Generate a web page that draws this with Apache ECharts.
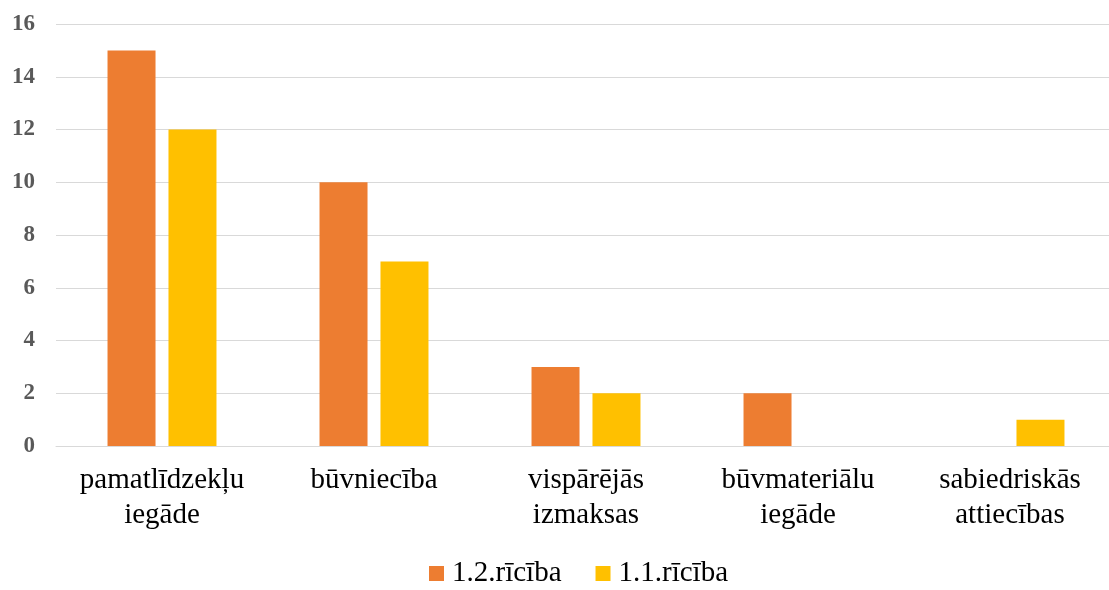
<!DOCTYPE html>
<html><head><meta charset="utf-8">
<script src="https://cdn.jsdelivr.net/npm/echarts@6/dist/echarts.min.js"></script>
<style>html,body{margin:0;padding:0;background:#fff;overflow:hidden;width:1109px;height:590px}#c{width:1124px;height:590px}</style>
</head><body><div id="c"></div>
<script>
const categories = ['pamatlīdzekļu\niegāde', 'būvniecība', 'vispārējās\nizmaksas', 'būvmateriālu\niegāde', 'sabiedriskās\nattiecības'];
const seriesNames = ['1.2.rīcība', '1.1.rīcība'];
const values12 = [15, 10, 3, 2, null];
const values11 = [12, 7, 2, null, 1];
const colors = ['#ED7D31', '#FFC000'];

const chart = echarts.init(document.getElementById('c'));
chart.setOption({
  animation: false,
  color: colors,
  grid: {left: 56, width: 1060, top: 24, bottom: 144, containLabel: false},
  legend: {
    top: 559, left: 429, padding: 0,
    itemWidth: 15, itemHeight: 15, itemGap: 34,
    icon: 'rect',
    textStyle: {fontFamily: 'Liberation Serif', fontSize: 29, color: '#000', padding: [0, 0, 0, 3]},
    data: seriesNames
  },
  xAxis: {
    type: 'category', data: categories,
    axisLine: {lineStyle: {color: '#d9d9d9', width: 1}},
    axisTick: {show: false},
    axisLabel: {interval: 0, fontFamily: 'Liberation Serif', fontSize: 29, color: '#000', lineHeight: 35, margin: 17}
  },
  yAxis: {
    type: 'value', min: 0, max: 16, interval: 2,
    axisLine: {show: false}, axisTick: {show: false},
    splitLine: {lineStyle: {color: '#d9d9d9', width: 1}},
    axisLabel: {fontFamily: 'Liberation Serif', fontSize: 23, fontWeight: 'bold', color: '#595959', margin: 21}
  },
  series: [
    {name: seriesNames[0], type: 'bar', data: values12, barWidth: 48, barGap: '27%'},
    {name: seriesNames[1], type: 'bar', data: values11, barWidth: 48, barGap: '27%'}
  ]
});
</script></body></html>
